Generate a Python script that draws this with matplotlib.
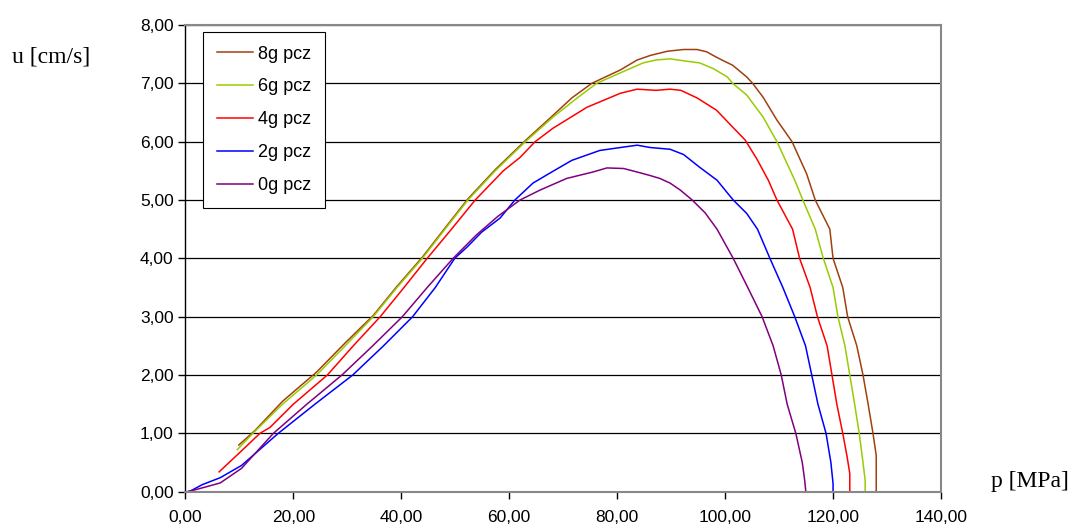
import numpy as np
import matplotlib
matplotlib.use("Agg")
import matplotlib.pyplot as plt
from matplotlib.ticker import FuncFormatter, MultipleLocator

# p [MPa] / u [cm/s]
p_0g = [0.3, 1.3, 3.3, 6.45, 10.4, 16.3, 22.5, 29.0, 34.7, 40.2, 44.8, 49.6, 53.9, 57.9, 62.0,
        65.7, 70.65, 75.5, 78.1, 81.2, 83.7, 86.1, 87.9, 89.8, 91.7, 93.9, 96.3, 98.5, 101.5,
        104.2, 106.85, 108.9, 110.4, 111.5, 113.1, 114.3, 114.75, 114.95]
u_0g = [0.00, 0.02, 0.07, 0.15, 0.40, 1.00, 1.50, 2.00, 2.50, 3.00, 3.50, 4.00, 4.40, 4.72, 5.00,
        5.17, 5.37, 5.48, 5.55, 5.54, 5.48, 5.42, 5.37, 5.29, 5.17, 5.00, 4.78, 4.50, 4.00,
        3.50, 3.00, 2.50, 2.00, 1.50, 1.00, 0.50, 0.19, 0.00]

p_2g = [0.5, 1.3, 3.1, 6.45, 10.4, 17.2, 24.0, 31.0, 36.7, 42.1, 46.3, 49.9, 52.15, 54.9, 58.3,
        61.05, 64.4, 67.5, 71.6, 76.8, 80.6, 83.7, 86.1, 89.8, 92.3, 95.3, 98.5, 101.5, 104.0,
        106.0, 108.3, 110.7, 112.9, 114.9, 116.05, 117.2, 118.7, 119.6, 120.0, 120.0]
u_2g = [0.00, 0.03, 0.12, 0.24, 0.45, 1.00, 1.50, 2.00, 2.50, 3.00, 3.50, 4.00, 4.19, 4.45, 4.69,
        5.00, 5.29, 5.46, 5.68, 5.85, 5.90, 5.94, 5.90, 5.87, 5.78, 5.56, 5.34, 5.00, 4.77,
        4.50, 4.00, 3.50, 3.00, 2.50, 2.00, 1.50, 1.00, 0.50, 0.14, 0.00]

p_4g = [6.25, 10.4, 13.8, 15.65, 20.0, 26.3, 31.1, 36.1, 40.5, 44.8, 49.3, 53.7, 58.9, 62.0, 64.8,
        68.1, 74.4, 80.6, 83.7, 87.2, 89.8, 91.8, 94.8, 98.4, 101.4, 103.7, 105.9, 108.0, 109.6,
        112.5, 113.8, 115.75, 117.1, 118.9, 119.8, 120.7, 121.8, 122.6, 123.1, 123.1]
u_4g = [0.34, 0.70, 1.00, 1.10, 1.50, 2.00, 2.50, 3.00, 3.50, 4.00, 4.50, 5.00, 5.50, 5.73, 6.00,
        6.23, 6.59, 6.83, 6.90, 6.88, 6.90, 6.88, 6.75, 6.54, 6.25, 6.03, 5.70, 5.34, 5.00,
        4.50, 4.00, 3.50, 3.00, 2.50, 2.00, 1.50, 1.00, 0.60, 0.31, 0.00]

p_6g = [9.6, 12.5, 18.0, 24.3, 29.6, 34.8, 39.2, 43.9, 48.1, 52.35, 57.4, 63.0, 68.1, 72.6, 76.2,
        80.6, 84.8, 87.2, 89.8, 92.8, 95.3, 97.85, 100.4, 101.4, 104.0, 107.05, 109.6, 112.9, 114.4,
        116.7, 118.2, 120.0, 120.9, 122.2, 123.1, 124.0, 124.85, 125.55, 125.95, 125.95]
u_6g = [0.72, 1.00, 1.50, 2.00, 2.50, 3.00, 3.50, 4.00, 4.50, 5.00, 5.50, 6.00, 6.42, 6.75, 7.00,
        7.18, 7.35, 7.40, 7.42, 7.38, 7.35, 7.25, 7.11, 7.00, 6.80, 6.42, 6.00, 5.34, 5.00,
        4.50, 4.00, 3.50, 3.00, 2.50, 2.00, 1.50, 1.00, 0.50, 0.19, 0.00]

p_8g = [9.9, 12.9, 18.0, 24.3, 29.6, 34.8, 39.2, 43.9, 48.1, 52.35, 57.4, 63.0, 68.1, 71.6, 75.3,
        80.6, 83.7, 86.2, 89.3, 92.3, 94.8, 96.6, 97.75, 99.4, 101.4, 104.0, 105.1, 107.05, 109.6,
        112.4, 115.1, 116.7, 119.4, 120.0, 121.8, 122.7, 124.4, 125.55, 126.5, 127.4, 128.0, 128.0]
u_8g = [0.80, 1.05, 1.55, 2.05, 2.55, 3.02, 3.52, 4.02, 4.52, 5.02, 5.52, 6.02, 6.45, 6.75, 7.00,
        7.23, 7.40, 7.48, 7.55, 7.58, 7.58, 7.54, 7.48, 7.40, 7.31, 7.11, 7.00, 6.76, 6.37,
        6.00, 5.45, 5.00, 4.50, 4.00, 3.50, 3.00, 2.50, 2.00, 1.50, 1.00, 0.62, 0.00]

series = [
    ("8g pcz", p_8g, u_8g, "#A0400F"),
    ("6g pcz", p_6g, u_6g, "#99CC00"),
    ("4g pcz", p_4g, u_4g, "#FF0000"),
    ("2g pcz", p_2g, u_2g, "#0000FF"),
    ("0g pcz", p_0g, u_0g, "#800080"),
]

plt.rcParams['font.family'] = ['Liberation Sans', 'DejaVu Sans']

W, H = 1070, 527
x0, x1, y_top, y_bot = 185.4, 941.0, 25.0, 491.7

fig = plt.figure(figsize=(W / 100, H / 100), dpi=100)
ax = fig.add_axes([x0 / W, 1 - y_bot / H, (x1 - x0) / W, (y_bot - y_top) / H])

for lab, p, u, c in series:
    ax.plot(p, u, color=c, lw=1.1, label=lab)

ax.set_xlim(0, 140)
ax.set_ylim(0, 8)
ax.xaxis.set_major_locator(MultipleLocator(20))
ax.yaxis.set_major_locator(MultipleLocator(1))
fmt = FuncFormatter(lambda v, pos: f"{v:.2f}".replace(".", ","))
ax.xaxis.set_major_formatter(fmt)
ax.yaxis.set_major_formatter(fmt)
ax.tick_params(direction="out", length=5, width=1, labelsize=12.5)
ax.tick_params(axis="y", pad=3.5)
ax.tick_params(axis="x", pad=8.5)
ax.yaxis.grid(True, color="black", lw=0.9)
ax.set_axisbelow(True)

ax.spines["left"].set_color("black")
ax.spines["left"].set_linewidth(1.0)
for s in ["top", "right", "bottom"]:
    ax.spines[s].set_color("#888888")
    ax.spines[s].set_linewidth(1.5)

fig.text(12 / W, 1 - 57 / H, "u [cm/s]", family="Liberation Serif", fontsize=17,
         va="center", ha="left")
fig.text(1069 / W, 1 - 482 / H, "p [MPa]", family="Liberation Serif", fontsize=17,
         va="center", ha="right")

leg = ax.legend(loc="upper left",
                bbox_to_anchor=((203 - x0) / (x1 - x0), (y_bot - 32) / (y_bot - y_top)),
                borderaxespad=0, fontsize=13, handlelength=2.0, handletextpad=0.3,
                labelspacing=0.88, borderpad=0.75, fancybox=False, framealpha=1,
                edgecolor="black")
leg.get_frame().set_linewidth(0.8)

fig.savefig("out.png", dpi=100)
